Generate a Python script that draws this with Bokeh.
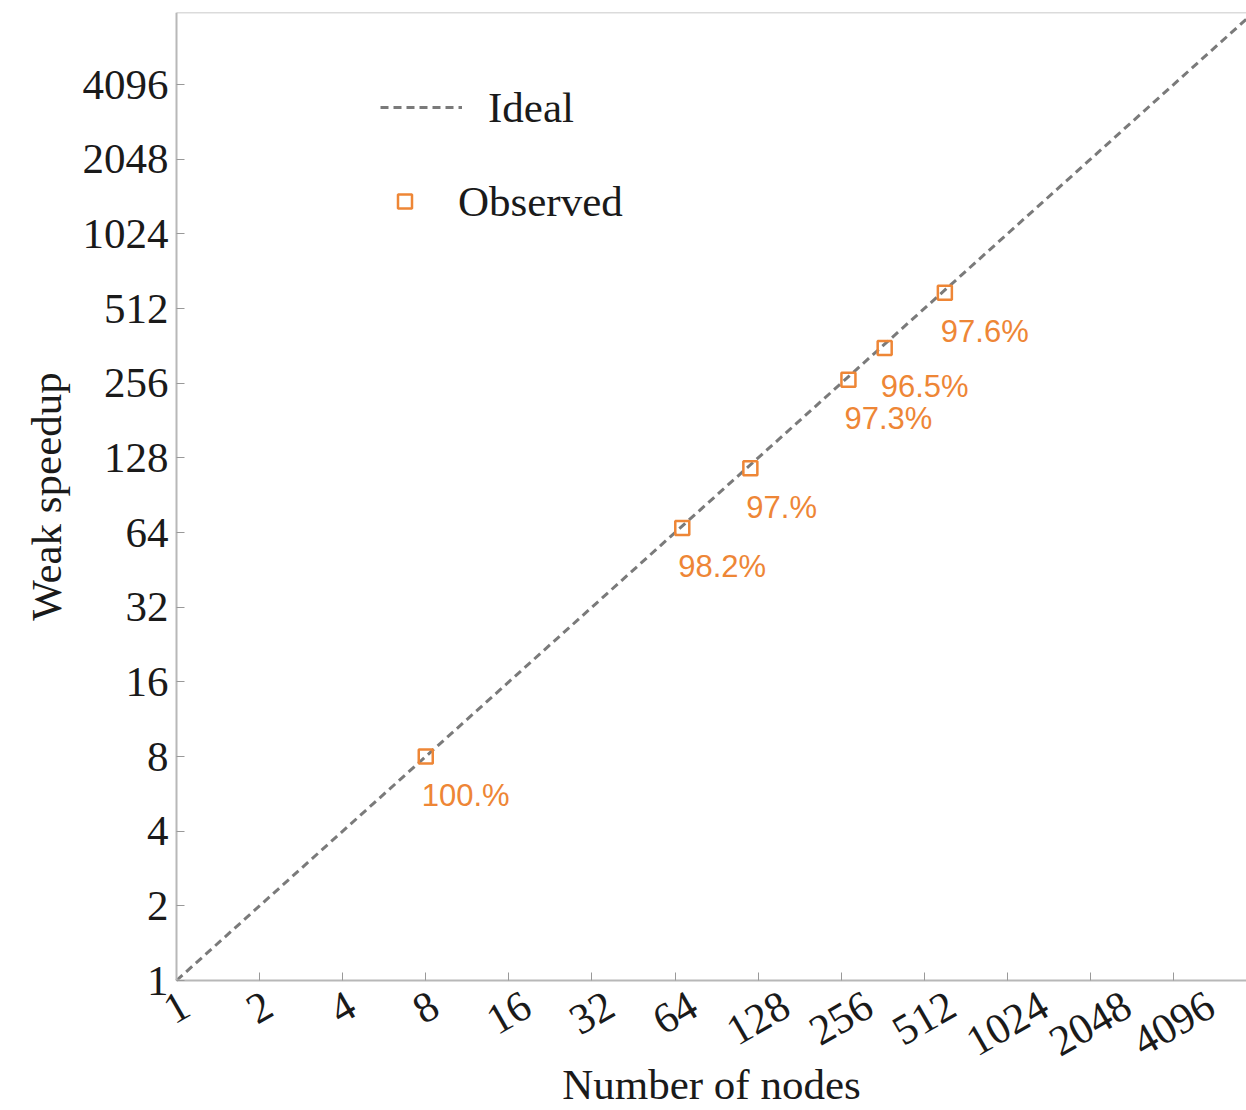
import math
from bokeh.plotting import figure
from bokeh.models import (Range1d, FixedTicker, Legend, LegendItem, LogAxis,
                          ColumnDataSource)
from bokeh.embed import file_html
from bokeh.resources import INLINE
from bokeh.core.properties import value

# ---------------- data ----------------
nodes = [8, 68, 120, 272, 368, 608]
speedup = [8.0, 66.8, 116.4, 264.7, 355.1, 593.4]
efficiency_labels = ["100.%", "98.2%", "97.%", "97.3%", "96.5%", "97.6%"]
ideal_x = [1, 8000]
ideal_y = [1, 8000]
x_ticks = [1, 2, 4, 8, 16, 32, 64, 128, 256, 512, 1024, 2048, 4096]
y_ticks = [1, 2, 4, 8, 16, 32, 64, 128, 256, 512, 1024, 2048, 4096]
x_labels = [str(t) for t in x_ticks]
x_min, x_max = 1, 7530
y_min, y_max = 1, 8000
x_title = "Number of nodes"
y_title = "Weak speedup"

# ---------------- style / layout ----------------
ORANGE = "#EE8636"
GRAY = "#7a7a7a"
AXIS = "#b8b8b8"
TXT = "#1a1a1a"
SERIF = "Liberation Serif"
FS = 43
W, H = 1246, 1110
AX_L = 176      # pixel column of the y axis (x = x_min)
AX_B = 980      # pixel row of the x axis (y = y_min)
TOP = 12        # pixel row of y = y_max

# The frame covers the whole canvas so the rotated tick labels are never clipped;
# the axes are pinned at x_min / y_min.
x_lo = x_min * (x_max / x_min) ** (-AX_L / (W - AX_L))
y_lo = y_min * (y_max / y_min) ** (-(H - AX_B) / (AX_B - TOP))

p = figure(width=W, height=H, x_axis_type="log", y_axis_type="log",
           x_range=Range1d(x_lo, x_max), y_range=Range1d(y_lo, y_max),
           output_backend="svg", toolbar_location=None,
           min_border_left=0, min_border_right=0, min_border_top=TOP,
           min_border_bottom=0)
p.background_fill_color = "white"
p.border_fill_color = "white"
p.outline_line_color = None
p.grid.visible = False

xa, ya = p.xaxis[0], p.yaxis[0]
xa.fixed_location = y_min
ya.fixed_location = x_min
xa.bounds = (x_min, x_max)
ya.bounds = (y_min, y_max)

for ax in (xa, ya):
    ax.axis_line_color = AXIS
    ax.axis_line_width = 2
    ax.major_tick_line_color = "#999999"
    ax.major_tick_line_width = 1
    ax.major_tick_in = 8
    ax.major_tick_out = 0
    ax.minor_tick_line_color = None
    ax.axis_label_text_font = SERIF
    ax.axis_label_text_font_size = f"{FS}px"
    ax.axis_label_text_font_style = "normal"
    ax.axis_label_text_color = TXT
    ax.major_label_text_font = SERIF
    ax.major_label_text_font_size = f"{FS}px"
    ax.major_label_text_color = TXT

xa.ticker = FixedTicker(ticks=x_ticks)
ya.ticker = FixedTicker(ticks=y_ticks)
ya.major_label_overrides = {t: str(t) for t in y_ticks}
ya.major_label_standoff = 8
ya.axis_label = y_title
ya.axis_label_standoff = 10

# x tick labels are drawn rotated and centred below each tick (glyphs below)
xa.major_label_overrides = {t: "" for t in x_ticks}
xa.major_label_text_font_size = "0px"
xa.major_label_standoff = 0
xa.axis_label = x_title
xa.axis_label_standoff = 80

# top frame line
top = LogAxis(fixed_location=y_max, bounds=(x_min, x_max), ticker=FixedTicker(ticks=[]),
              axis_line_color=AXIS, axis_line_width=1.5,
              major_tick_line_color=None, minor_tick_line_color=None)
p.add_layout(top, "above")

# ideal line
ideal = p.line(ideal_x, ideal_y, line_color=GRAY, line_width=3, line_dash="8 5")

# observed
src = ColumnDataSource(dict(x=nodes, y=speedup, lab=efficiency_labels))
obs = p.scatter("x", "y", source=src, marker="square", size=14, fill_color=None,
                line_color=ORANGE, line_width=2.5)
p.text("x", "y", text="lab", source=src, x_offset=-4, y_offset=39,
       text_align="left", text_baseline="middle",
       text_font=value("Liberation Sans"), text_font_size="31px", text_color=ORANGE)

# rotated x tick labels
ang = math.pi / 6
offs = []
for s in x_labels:
    w = len(s) * 0.5 * FS
    h = 0.68 * FS
    offs.append(9 + (w * math.sin(ang) + h * math.cos(ang)) / 2)
lsrc = ColumnDataSource(dict(x=x_ticks, y=[y_min] * len(x_ticks), t=x_labels, off=offs))
p.text("x", "y", text="t", source=lsrc, y_offset="off", angle=ang,
       text_align="center", text_baseline="middle",
       text_font=value(SERIF), text_font_size=f"{FS}px", text_color=TXT)

# legends (positions in px from the frame's bottom-left corner)
common = dict(padding=0, spacing=0, margin=0, border_line_color=None,
              background_fill_alpha=0, label_text_font=SERIF,
              label_text_font_size=f"{FS}px", label_text_color=TXT,
              glyph_height=50, label_height=50)
leg1 = Legend(items=[LegendItem(label="Ideal", renderers=[ideal])],
              location=(380, H - 107 - 25), glyph_width=82, label_standoff=26, **common)
leg2 = Legend(items=[LegendItem(label="Observed", renderers=[obs])],
              location=(387, H - 201 - 25), glyph_width=35, label_standoff=36, **common)
p.add_layout(leg1)
p.add_layout(leg2)

open("out.html", "w").write(file_html(p, INLINE))
